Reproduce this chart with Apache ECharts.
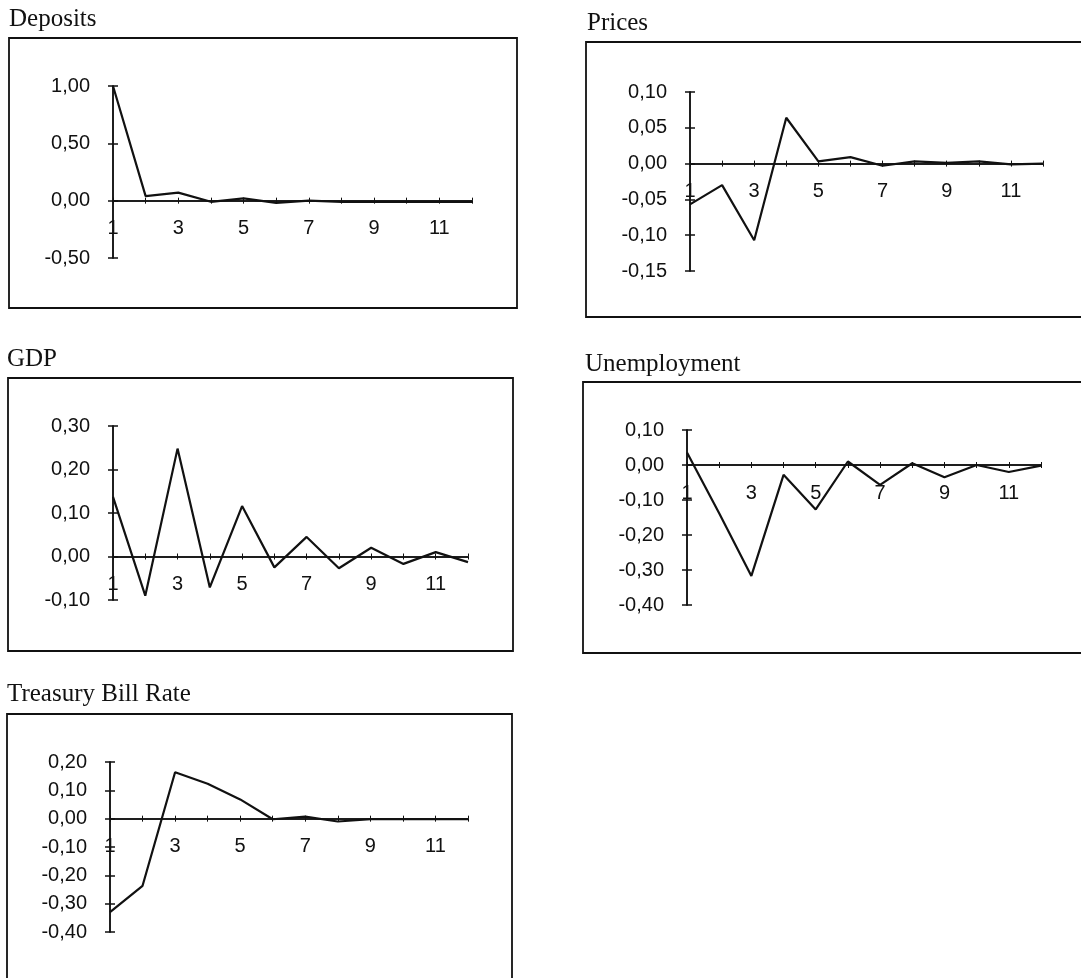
<!DOCTYPE html>
<html>
<head>
<meta charset="utf-8">
<script src="https://cdn.jsdelivr.net/npm/echarts@6/dist/echarts.min.js"></script>
<style>
  html, body { margin: 0; padding: 0; background: #fff; }
  #chart { width: 1081px; height: 978px; }
</style>
</head>
<body>
<div id="chart"></div>
<script>
// ---- data ----
const categories = ['1', '2', '3', '4', '5', '6', '7', '8', '9', '10', '11', '12'];

const panelTitles = ['Deposits', 'Prices', 'GDP', 'Unemployment', 'Treasury Bill Rate'];

const depositsValues = [1.00, 0.04, 0.07, -0.01, 0.02, -0.02, 0.00, -0.01, -0.01, -0.01, -0.01, -0.01];
const pricesValues = [-0.057, -0.030, -0.107, 0.064, 0.003, 0.009, -0.003, 0.003, 0.001, 0.003, -0.001, 0.000];
const gdpValues = [0.137, -0.090, 0.248, -0.071, 0.116, -0.025, 0.045, -0.027, 0.020, -0.017, 0.010, -0.013];
const unemploymentValues = [0.036, -0.138, -0.317, -0.028, -0.127, 0.010, -0.057, 0.005, -0.035, 0.000, -0.020, -0.002];
const tbillValues = [-0.330, -0.237, 0.164, 0.123, 0.068, -0.002, 0.007, -0.010, -0.002, -0.002, -0.002, -0.002];

const depositsTicks = [-0.50, 0.00, 0.50, 1.00];
const pricesTicks = [-0.15, -0.10, -0.05, 0.00, 0.05, 0.10];
const gdpTicks = [-0.10, 0.00, 0.10, 0.20, 0.30];
const unemploymentTicks = [-0.40, -0.30, -0.20, -0.10, 0.00, 0.10];
const tbillTicks = [-0.40, -0.30, -0.20, -0.10, 0.00, 0.10, 0.20];

const seriesValues = [depositsValues, pricesValues, gdpValues, unemploymentValues, tbillValues];
const seriesTicks = [depositsTicks, pricesTicks, gdpTicks, unemploymentTicks, tbillTicks];

// ---- layout (positions / sizes only) ----
const layout = [
  { grid: { left: 113, top: 86, width: 359, height: 172 }, frame: { x: 9, y: 38, width: 508, height: 270 }, title: { left: 9, top: 7 } },
  { grid: { left: 690, top: 92, width: 353, height: 179 }, frame: { x: 586, y: 42, width: 520, height: 275 }, title: { left: 587, top: 11 } },
  { grid: { left: 113, top: 426, width: 355, height: 174 }, frame: { x: 8, y: 378, width: 505, height: 273 }, title: { left: 7, top: 347 } },
  { grid: { left: 687, top: 430, width: 354, height: 175 }, frame: { x: 583, y: 382, width: 520, height: 271 }, title: { left: 585, top: 352 } },
  { grid: { left: 110, top: 762, width: 358, height: 170 }, frame: { x: 7, y: 714, width: 505, height: 300 }, title: { left: 7, top: 682 } }
];

const sansFont = '"Liberation Sans", Arial, sans-serif';
const serifFont = '"Liberation Serif", "Times New Roman", serif';
const fmt = v => v.toFixed(2).replace('.', ',');

const grids = [], xAxes = [], yAxes = [], series = [], titles = [], graphics = [];

layout.forEach((L, i) => {
  const ticks = seriesTicks[i];
  const tmin = ticks[0], tmax = ticks[ticks.length - 1];
  const step = Math.round((ticks[1] - ticks[0]) * 1000) / 1000;
  // x axis sits on the value 0 of the y axis
  const zeroOffset = -L.grid.height * (0 - tmin) / (tmax - tmin);

  grids.push(Object.assign({ containLabel: false }, L.grid));

  titles.push({
    text: panelTitles[i], left: L.title.left, top: L.title.top, padding: 0,
    textStyle: { fontFamily: serifFont, fontSize: 25, fontWeight: 'normal', color: '#111' }
  });

  graphics.push({
    type: 'rect', silent: true, z: 0,
    shape: { x: L.frame.x, y: L.frame.y, width: L.frame.width, height: L.frame.height },
    style: { fill: 'none', stroke: '#111', lineWidth: 1.8 }
  });

  const axisLineStyle = { color: '#111', width: 1.5 };
  // x axis with labels (ticks down)
  xAxes.push({
    type: 'category', gridIndex: i, data: categories, boundaryGap: false, position: 'bottom',
    offset: zeroOffset,
    axisLine: { show: true, onZero: false, lineStyle: axisLineStyle },
    axisTick: { show: true, interval: 0, length: 3, inside: false, lineStyle: { color: '#111', width: 1 } },
    axisLabel: { interval: 1, margin: 18, fontSize: 20, color: '#111', fontFamily: sansFont },
    splitLine: { show: false }
  });
  // x axis duplicate (ticks up -> cross ticks)
  xAxes.push({
    type: 'category', gridIndex: i, data: categories, boundaryGap: false, position: 'bottom',
    offset: zeroOffset,
    axisLine: { show: true, onZero: false, lineStyle: axisLineStyle },
    axisTick: { show: true, interval: 0, length: 3, inside: true, lineStyle: { color: '#111', width: 1 } },
    axisLabel: { show: false },
    splitLine: { show: false }
  });
  // y axis with labels
  yAxes.push({
    type: 'value', gridIndex: i, position: 'left', min: tmin, max: tmax, interval: step,
    axisLine: { show: true, lineStyle: axisLineStyle },
    axisTick: { show: true, length: 5, inside: false, lineStyle: { color: '#111', width: 1.5 } },
    axisLabel: { formatter: fmt, margin: 23, fontSize: 20, color: '#111', fontFamily: sansFont },
    splitLine: { show: false }
  });
  // y axis duplicate (ticks inside)
  yAxes.push({
    type: 'value', gridIndex: i, position: 'left', min: tmin, max: tmax, interval: step,
    axisLine: { show: true, lineStyle: axisLineStyle },
    axisTick: { show: true, length: 5, inside: true, lineStyle: { color: '#111', width: 1.5 } },
    axisLabel: { show: false },
    splitLine: { show: false }
  });

  series.push({
    type: 'line', name: panelTitles[i],
    xAxisIndex: 2 * i, yAxisIndex: 2 * i,
    data: seriesValues[i],
    symbol: 'none', smooth: false, z: 5,
    lineStyle: { color: '#111', width: 2.2 },
    animation: false
  });
});

const chart = echarts.init(document.getElementById('chart'), null, { renderer: 'canvas' });
chart.setOption({
  backgroundColor: '#fff',
  animation: false,
  title: titles,
  grid: grids,
  xAxis: xAxes,
  yAxis: yAxes,
  series: series,
  graphic: graphics
});
</script>
</body>
</html>
